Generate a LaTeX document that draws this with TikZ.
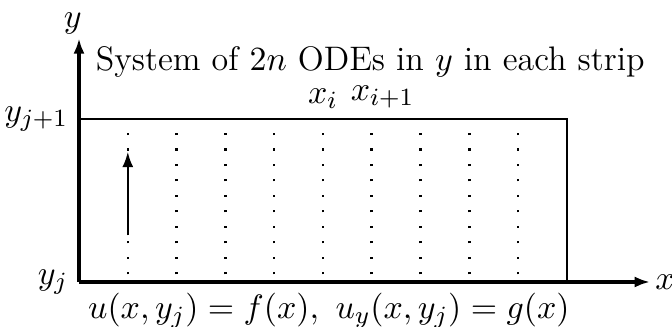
\documentclass[tikz,border=0pt]{standalone}
\usetikzlibrary{arrows.meta}
\begin{document}
\begin{tikzpicture}[every node/.style={font=\fontsize{11}{13}\selectfont},
    tip/.style={-{Latex[length=5pt,width=3.6pt]}}]
  \useasboundingbox (-0.898,-0.511) rectangle (6.74,3.205);

  % axes
  \coordinate (O) at (0,0);
  \coordinate (X) at (6.49,0);
  \coordinate (Y) at (0,2.77);
  \draw[line width=1.1pt,tip] (O) -- (X);
  \draw[line width=1.1pt,tip] (O) -- (Y);
  \node[right,inner sep=1.5pt] (xlab) at (X) {\(x\)};
  \node[above,inner sep=1pt,xshift=-2pt] (ylab) at (Y) {\(y\)};

  % strip boundary
  \coordinate (TL) at (0,1.852);
  \coordinate (TR) at (5.545,1.852);
  \coordinate (BR) at (5.545,0);
  \draw[line width=0.7pt] (TL) -- (TR) -- (BR);
  \node[left] (yj1) at (TL) {\(y_{j+1}\)};
  \node[left] (yj) at (O) {\(y_j\)};

  % grid lines x_i
  \foreach \i in {1,...,9}
    \draw[line width=0.8pt, dash pattern=on 0.7pt off 4.3pt, dash phase=-2.5pt] (\i*0.5545,0) -- (\i*0.5545,1.852);
  \node[above] (xi) at (2.7725,1.85) {\(x_i\)};
  \node[above] (xi1) at (3.45,1.85) {\(x_{i+1}\)};

  % marching direction
  \coordinate (A0) at (0.5545,0.53);
  \coordinate (A1) at (0.5545,1.48);
  \draw[line width=0.7pt,tip] (A0) -- (A1);

  \node (sys) at (3.31,2.5) {System of \(2n\) ODEs in \(y\) in each strip};
  \node[below] (bc) at (2.84,0) {\(u(x,y_j)=f(x),\ u_y(x,y_j)=g(x)\)};
\end{tikzpicture}
\end{document}
